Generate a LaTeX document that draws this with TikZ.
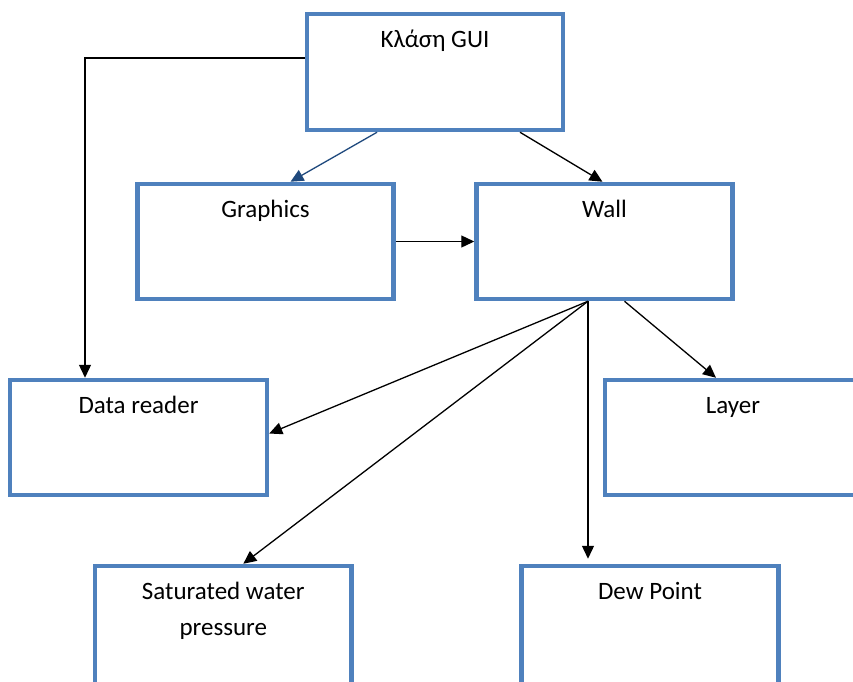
\documentclass[tikz,border=0pt]{standalone}
\usepackage{fontspec}
\setmainfont{Carlito}
\usetikzlibrary{arrows.meta,calc}
\definecolor{boxblue}{RGB}{79,129,189}
\definecolor{darkarrow}{RGB}{31,73,125}
\newcommand{\boxtext}[3]{\parbox[c][#2][t]{#1}{\centering\rule{0pt}{33pt}#3}}
\begin{document}
\begin{tikzpicture}[x=1pt,y=-1pt,
  box/.style={draw=boxblue, line width=4.5pt, inner sep=0pt, font=\fontsize{25}{36}\selectfont},
  arr/.style={line width=1.3pt, -{Triangle[length=13pt,width=12pt]}}]
\useasboundingbox (0,0) rectangle (853,681);
\node[box] (gui)   at (435,72)      {\boxtext{256pt}{116pt}{Κλάση GUI}};
\node[box] (gr)    at (265.5,241.5) {\boxtext{256pt}{115pt}{Graphics}};
\node[box] (wall)  at (604.5,241.5) {\boxtext{256pt}{115pt}{Wall}};
\node[box] (dr)    at (138.5,437.5) {\boxtext{257pt}{115pt}{Data reader}};
\node[box] (layer) at (733,437.5)   {\boxtext{256pt}{115pt}{Layer}};
\node[box] (sat)   at (223.3,626)   {\boxtext{256.6pt}{120pt}{Saturated water\\pressure}};
\node[box] (dp)    at (650,626)     {\boxtext{256.6pt}{120pt}{Dew Point}};
\draw[arr] ($(gui.west)+(0,-14)$) -| ($(dr.north)+(-53.5,0)$);
\draw[arr, draw=darkarrow, fill=darkarrow] ($(gui.south)+(-58,0)$) -- ($(gr.north)+(25,0)$);
\draw[arr] ($(gui.south)+(85,0)$) -- ($(wall.north)+(-2,0)$);
\draw[arr] (gr.east) -- (wall.west);
\draw[arr] ($(wall.south)+(-16.5,0)$) -- ($(dr.east)+(0,-4)$);
\draw[arr] ($(wall.south)+(-16.5,0)$) -- ($(sat.north)+(20,0)$);
\draw[arr] ($(wall.south)+(-16.5,0)$) -- ($(dp.north)+(-62,-5)$);
\draw[arr] ($(wall.south)+(20,0)$) -- ($(layer.north)+(-17,0)$);
\end{tikzpicture}
\end{document}
